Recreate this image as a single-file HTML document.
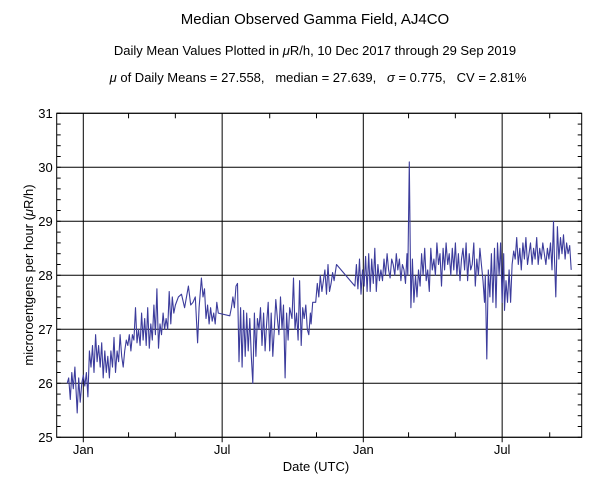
<!DOCTYPE html>
<html><head><meta charset="utf-8"><style>
html,body{margin:0;padding:0;background:#fff;}
svg{display:block;font-family:"Liberation Sans",Arial,sans-serif;}
</style></head><body>
<svg id="chart" width="600" height="496" viewBox="0 0 600 496" xmlns="http://www.w3.org/2000/svg">
<text x="315" y="24" font-size="15" text-anchor="middle">Median Observed Gamma Field, AJ4CO</text>
<text x="315" y="55" font-size="13" text-anchor="middle">Daily Mean Values Plotted in <tspan font-style="italic">μ</tspan>R/h, 10 Dec 2017 through 29 Sep 2019</text>
<text x="318" y="82" font-size="13" text-anchor="middle" xml:space="preserve"><tspan font-style="italic">μ</tspan> of Daily Means = 27.558,   median = 27.639,   <tspan font-style="italic">σ</tspan> = 0.775,   CV = 2.81%</text>
<g id="grid"></g>
<g id="series"></g>
<rect x="56.7" y="113.3" width="525" height="324" fill="none" stroke="#000" stroke-width="1"/>
<g id="axes"></g>
<text x="316" y="471" font-size="13" text-anchor="middle">Date (UTC)</text>
<text transform="translate(33,275) rotate(-90)" font-size="13" text-anchor="middle">microroentgens per hour (<tspan font-style="italic">μ</tspan>R/h)</text>
</svg>
<script>
// data: day offset from 1 Jan 2018, value in uR/h
const days = [
-21,-19,-17,-15,-13,-11,-9,-8,-6,-4,
-2,0,2,4,6,8,10,12,14,16,
18,20,22,24,26,28,30,32,34,36,
38,40,42,44,46,48,50,52,54,56,
58,60,62,64,66,68,70,72,74,76,
78,80,82,84,86,88,90,92,94,96,
98,100,102,104,106,108,110,112,114,116,
118,120,124,128,132,137,140,143,146,149,
151,154,156,158,160,162,164,166,168,170,
172,174,176,191,193,195,197,199,201,203,
205,207,209,211,213,215,217,219,221,223,
225,227,229,231,233,235,237,239,241,243,
245,247,249,251,253,255,257,259,261,263,
265,267,269,272,274,276,278,280,282,284,
286,288,290,292,294,296,297,299,303,305,
307,309,311,313,315,317,319,321,323,325,
327,330,354,356,358,360,362,364,366,368,
370,372,374,376,378,380,382,384,386,388,
390,392,394,396,398,400,402,404,406,408,
410,412,414,416,418,420,422,423,425,427,
429,431,433,435,437,439,441,443,445,447,
449,451,453,455,457,459,461,463,465,467,
469,471,473,475,477,479,481,483,485,487,
489,491,493,495,497,499,501,503,505,507,
509,511,513,515,517,519,521,523,524,526,
528,530,532,534,536,538,540,542,544,546,
548,549,551,553,555,557,559,561,563,565,
567,569,571,573,575,577,579,581,583,585,
587,589,591,593,595,597,599,601,603,605,
607,609,611,613,614,616,618,620,622,624,
626,628,630,632,634,636];
const values = [
26.0,26.1,25.7,26.2,25.9,26.3,25.75,25.45,26.1,25.65,
26.0,26.15,25.95,26.2,25.75,26.6,26.3,26.7,26.2,26.9,
26.4,26.7,26.3,26.75,26.1,26.6,26.2,26.5,26.1,26.6,
26.3,26.85,26.2,26.6,26.4,26.9,26.5,26.3,26.6,26.8,
26.7,26.9,26.6,26.9,26.8,27.4,26.75,27.0,26.7,27.3,
26.8,27.2,26.7,27.4,26.65,27.1,26.8,27.45,26.9,27.75,
26.65,27.1,26.9,27.3,27.0,27.2,27.0,27.7,27.1,27.6,
27.3,27.45,27.6,27.65,27.4,27.8,27.45,27.5,27.6,26.75,
27.4,27.95,27.6,27.75,27.2,27.45,27.1,27.4,27.15,27.3,
27.1,27.5,27.3,27.25,27.4,27.6,27.4,27.8,27.85,26.4,
27.4,26.3,27.35,26.5,27.3,26.6,27.2,26.5,26.0,27.3,
26.5,27.2,27.0,27.4,26.7,27.3,26.6,27.1,27.5,26.6,
27.3,26.5,27.0,27.55,27.2,26.9,27.6,27.0,27.45,26.1,
27.3,26.8,27.4,27.2,27.95,27.0,27.3,26.8,27.9,26.7,
27.4,27.2,27.45,27.0,26.9,27.3,27.1,27.5,27.5,27.85,
27.6,28.0,27.7,27.9,28.1,27.65,28.2,27.7,27.85,28.05,
27.9,28.2,27.8,28.2,27.75,28.3,27.65,28.1,27.8,28.35,
27.7,28.4,27.7,28.3,27.85,28.5,27.7,28.2,27.9,28.1,
27.9,28.3,28.0,28.4,28.1,27.95,28.3,28.2,28.0,28.4,
28.1,28.3,27.9,28.2,28.1,27.85,28.4,28.0,30.1,27.4,
28.3,27.5,28.0,27.6,28.1,27.8,28.4,28.0,28.5,27.9,
28.1,27.7,28.5,28.1,28.3,28.0,28.6,28.2,28.4,27.8,
28.5,28.1,28.6,28.2,28.4,28.0,28.5,28.1,28.6,28.0,
28.4,27.9,28.3,28.5,28.1,28.6,27.9,28.4,28.1,28.2,
28.6,27.8,28.3,28.0,28.5,28.2,27.9,27.5,28.0,26.45,
28.1,27.6,28.4,27.5,28.5,27.4,28.6,28.0,28.6,27.5,
28.4,27.35,27.9,27.5,28.1,27.5,28.2,28.45,28.3,28.7,
28.2,28.5,28.1,28.6,28.3,28.7,28.2,28.4,28.6,28.2,
28.5,28.3,28.7,28.2,28.5,28.3,28.6,28.4,28.2,28.5,
28.3,28.6,28.1,29.0,28.4,27.6,28.9,28.3,28.7,28.4,
28.75,28.3,28.6,28.4,28.55,28.1];
const yTicks = [25,26,27,28,29,30,31];
const xTickDays = [0,181,365,546];
const xTickLabels = ["Jan","Jul","Jan","Jul"];
const xMinorDays = [59,120,243,304,424,485,608];

const NS = "http://www.w3.org/2000/svg";
const L = 56.7, R = 581.7, T = 113.3, B = 437.3;
const x0 = 83.3, pxPerDay = 280 / 365;
function xs(d){ return x0 + d * pxPerDay; }
function ys(v){ return B - (v - 25) / 6 * (B - T); }
function mk(tag, attrs, parent){ const e = document.createElementNS(NS, tag); for (const k in attrs) e.setAttribute(k, attrs[k]); parent.appendChild(e); return e; }

const grid = document.getElementById('grid');
const axes = document.getElementById('axes');
const series = document.getElementById('series');

yTicks.forEach(v => {
  const y = ys(v);
  const g = mk('line', {x1:L, x2:R, y1:y, y2:y, stroke:'#000', 'stroke-width':1}, grid);
  
  
  const t = mk('text', {x:L-4, y:y+4.5, 'font-size':13, 'text-anchor':'end'}, axes);
  t.textContent = String(v);
  
  
});
for (let v = 25; v <= 31.001; v += 0.2) {
  const y = ys(v);
  const a = mk('line', {x1:L, x2:L+4, y1:y, y2:y, stroke:'#000', 'stroke-width':1}, axes);
  
  
  const b = mk('line', {x1:R-4, x2:R, y1:y, y2:y, stroke:'#000', 'stroke-width':1}, axes);
  
  
}
xTickDays.forEach((d, i) => {
  const x = xs(d);
  const g = mk('line', {x1:x, x2:x, y1:T, y2:B+5, stroke:'#000', 'stroke-width':1}, grid);
  
  
  const t = mk('text', {x:x, y:454, 'font-size':13, 'text-anchor':'middle'}, axes);
  t.textContent = xTickLabels[i];
  
  
});
xMinorDays.forEach(d => {
  const x = xs(d);
  const a = mk('line', {x1:x, x2:x, y1:B-5, y2:B, stroke:'#000', 'stroke-width':1}, axes);
  
  
  const b = mk('line', {x1:x, x2:x, y1:T, y2:T+5, stroke:'#000', 'stroke-width':1}, axes);
  
  
});
const n = Math.min(days.length, values.length);
const pts = [];
for (let i = 0; i < n; i++) pts.push(xs(days[i]).toFixed(1) + ',' + ys(values[i]).toFixed(1));
const line = mk('polyline', {points:pts.join(' '), fill:'none', stroke:'#3c3c9c', 'stroke-width':1.1, 'stroke-linejoin':'round'}, series);


</script>
</body></html>
